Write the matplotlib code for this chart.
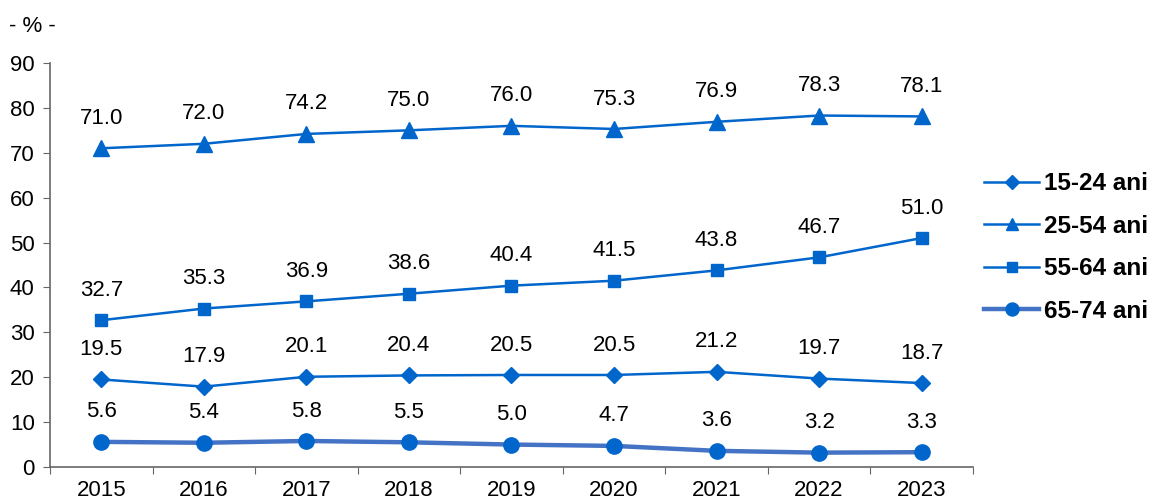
import numpy as np
import matplotlib.pyplot as plt

plt.rcParams['font.family'] = ['Liberation Sans', 'DejaVu Sans']

years = ["2015", "2016", "2017", "2018", "2019", "2020", "2021", "2022", "2023"]
v15_24 = [19.5, 17.9, 20.1, 20.4, 20.5, 20.5, 21.2, 19.7, 18.7]
v25_54 = [71.0, 72.0, 74.2, 75.0, 76.0, 75.3, 76.9, 78.3, 78.1]
v55_64 = [32.7, 35.3, 36.9, 38.6, 40.4, 41.5, 43.8, 46.7, 51.0]
v65_74 = [5.6, 5.4, 5.8, 5.5, 5.0, 4.7, 3.6, 3.2, 3.3]

blue = "#0066CC"
x = np.arange(len(years))

fig = plt.figure(figsize=(11.5, 5), dpi=100)
ax = fig.add_axes([0.0435, 0.066, 0.8025, 0.808])

series = [
    ("15-24 ani", v15_24, "D", 8, blue, 1.8),
    ("25-54 ani", v25_54, "^", 11, blue, 1.8),
    ("55-64 ani", v55_64, "s", 9, blue, 1.8),
    ("65-74 ani", v65_74, "o", 11, "#4472C4", 3.2),
]
for name, vals, mk, ms, lc, lw in series:
    ax.plot(x, vals, color=lc, lw=lw, marker=mk, markersize=ms,
            markerfacecolor=blue, markeredgecolor=blue, label=name)
    for xi, v in zip(x, vals):
        ax.annotate(f"{v:.1f}", (xi, v), xytext=(0, 14), textcoords="offset points",
                    ha="center", va="bottom", fontsize=16)

ax.set_xlim(-0.5, len(years) - 0.5)
ax.set_ylim(0, 90)
ax.set_yticks(np.arange(0, 91, 10))
ax.set_xticks(np.arange(-0.5, len(years), 1))
ax.set_xticklabels([])
ax.set_xticks(x, minor=True)
ax.set_xticklabels(years, minor=True)
ax.tick_params(axis="x", which="minor", length=0, pad=9, labelsize=16)
ax.tick_params(axis="x", which="major", length=5, direction="out", color="#666666")
ax.tick_params(axis="y", length=5, color="#666666", labelsize=16, pad=6)
for s in ["top", "right"]:
    ax.spines[s].set_visible(False)
for s in ["left", "bottom"]:
    ax.spines[s].set_color("#666666")
    ax.spines[s].set_linewidth(1.2)

fig.text(0.008, 0.935, "- % -", fontsize=16)

leg = fig.legend(loc="upper left", bbox_to_anchor=(0.856, 0.655), frameon=False,
                 prop={"weight": "bold", "size": 17.5}, handlelength=2.25,
                 labelspacing=0.8, handletextpad=0.2, markerscale=0.85,
                 borderaxespad=0, borderpad=0)

fig.savefig("out.png", dpi=100)
